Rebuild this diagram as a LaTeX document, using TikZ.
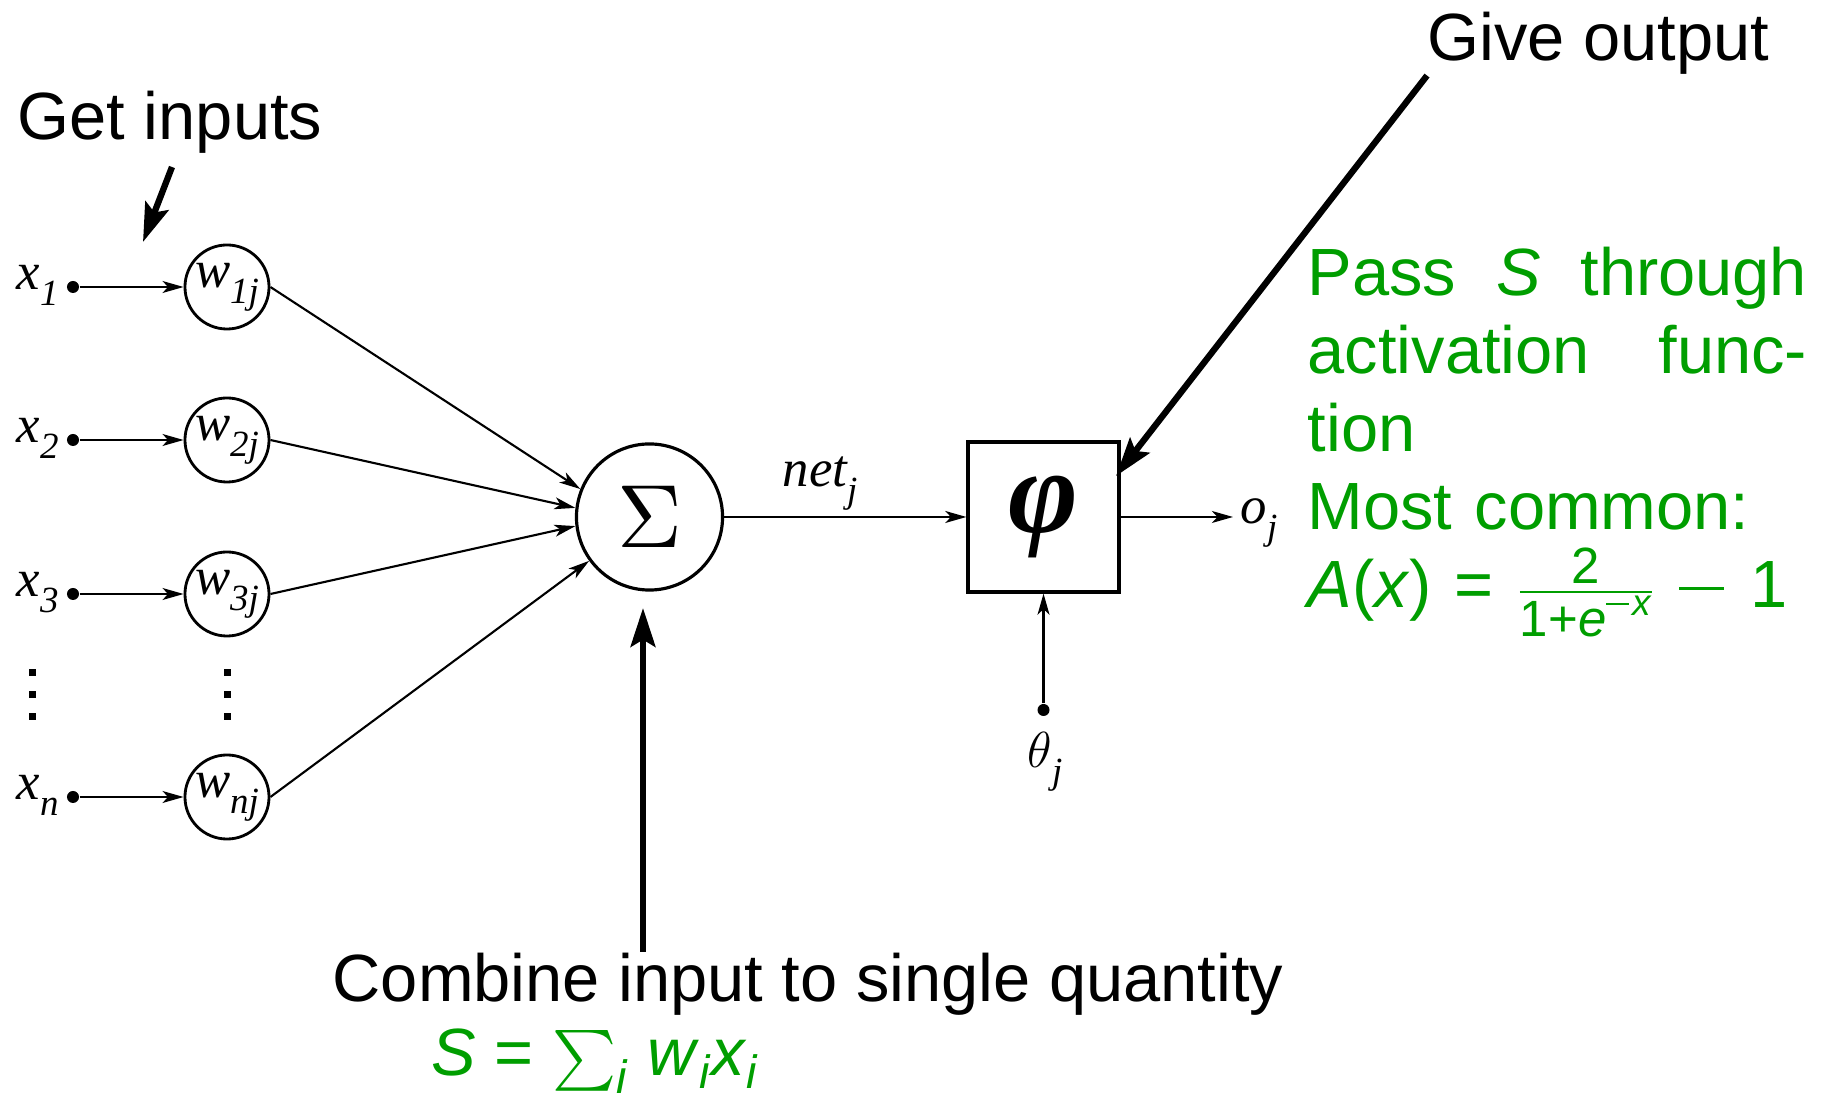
\documentclass[tikz,border=0pt]{standalone}
\usepackage{fontspec}
\usepackage{amsmath}
\usepackage{graphicx}
\setmainfont{Liberation Sans}
\newfontfamily\lser{Liberation Serif}
\usetikzlibrary{arrows.meta}
\definecolor{grn}{RGB}{0,158,0}
\newcommand\lab[2]{{\lser\itshape\fontsize{15}{16}\selectfont #1\raisebox{-0.3em}{\fontsize{10.5}{11}\selectfont #2}}}
\begin{document}
\begin{tikzpicture}[x=0.01cm,y=-0.01cm,
  wire/.style={line width=0.6pt,-{Stealth[length=6pt,width=3.4pt,inset=1.6pt]}},
  bigarrow/.style={line width=1.8pt,-{Stealth[length=11pt,width=7pt,inset=2pt]}},
  wnode/.style={circle,draw,line width=0.8pt,minimum size=8.4mm,inner sep=0pt},
  dotnode/.style={circle,fill,inner sep=0pt,minimum size=1.2mm},
  lbl/.style={anchor=base west,inner sep=0pt},
  txt/.style={inner sep=0pt,font=\fontsize{19}{22.2}\selectfont}]
\useasboundingbox (0,0) rectangle (1827,1098);

% inputs
\node[dotnode] (x1) at (73,287) {};
\node[dotnode] (x2) at (73,440) {};
\node[dotnode] (x3) at (73,594) {};
\node[dotnode] (xn) at (73,797) {};
\node[lbl] (lx1) at (16,290) {\lab{x}{1}};
\node[lbl] (lx2) at (16,443) {\lab{x}{2}};
\node[lbl] (lx3) at (16,597) {\lab{x}{3}};
\node[lbl] (lxn) at (16,800) {\lab{x}{n}};

% weights
\node[wnode] (w1) at (227,287) {\lab{w}{1j}};
\node[wnode] (w2) at (227,440) {\lab{w}{2j}};
\node[wnode] (w3) at (227,594) {\lab{w}{3j}};
\node[wnode] (wn) at (227,797) {\lab{w}{nj}};

% vertical dots
\foreach \yy in {673,695,717}{
  \fill (28.5,\yy-3.5) rectangle ++(7,7);
  \fill (223.5,\yy-3.5) rectangle ++(7,7);
}

\draw[wire] (x1) -- (w1);
\draw[wire] (x2) -- (w2);
\draw[wire] (x3) -- (w3);
\draw[wire] (xn) -- (wn);

% sum
\node[circle,draw,line width=0.9pt,minimum size=14.6mm,inner sep=0pt] (sigma) at (649.5,517) {\scalebox{2.55}{$\Sigma$}};
\draw[wire] (w1.east) -- (sigma.158);
\draw[wire] (w2.east) -- (sigma.173);
\draw[wire] (w3.east) -- (sigma.187);
\draw[wire] (wn.east) -- (sigma.216);

% activation
\node[draw,line width=0.9pt,minimum width=15.1mm,minimum height=15mm,inner sep=0pt] (phi) at (1043.5,517) {\raisebox{0.4mm}{\lser\bfseries\itshape\fontsize{34}{34}\selectfont φ}};
\draw[wire] (sigma) -- (phi);
\node[lbl] (netl) at (782,487) {\lab{net}{j}};
\coordinate (oend) at (1233,517);
\draw[wire] (phi) -- (oend);
\node[lbl] (ol) at (1240,524) {\lab{o}{j}};
\node[dotnode] (th) at (1043.5,710) {};
\draw[wire] (th) -- (phi);
\node[lbl] (thl) at (1027,768) {{\fontsize{15}{16}\selectfont$\theta$}\lab{}{j}};

% annotations
\node[txt,anchor=base west] (getin) at (17,140) {Get inputs};
\node[txt,anchor=base west] (giveout) at (1427,61) {Give output};
\node[txt,anchor=base west] (combine) at (332,1002) {Combine input to single quantity};
\node[txt,anchor=base west,text=grn] (sform) at (431,1076) {\textit{S} = $\sum_{\text{\itshape i}}$ \textit{w}$_{\text{\itshape i}}$\textit{x}$_{\text{\itshape i}}$};
\node[txt,text=grn,anchor=north west,text width=142pt,align=left] (pass) at (1307,246)
  {Pass\hfill\textit{S}\hfill through\\activation\hfill func-\\tion\\Most common:\\\textit{A}(\textit{x}) = $\frac{\text{\fontsize{14.5}{15}\selectfont 2}}{\text{\fontsize{14.5}{15}\selectfont 1+\textit{e}\raisebox{0.42em}{\fontsize{10.5}{11}\selectfont\rule[0.27em]{0.6em}{0.06em}\hspace{0.1em}\textit{x}}}}$\hspace{0.35em}\rule[0.26em]{0.66em}{0.05em}\hspace{0.4em}1};

\coordinate (gi1) at (172,167);
\coordinate (gi2) at (143,242);
\draw[bigarrow] (gi1) -- (gi2);
\coordinate (go2) at (1116,476);
\draw[bigarrow] (giveout.south west) -- (go2);
\coordinate (cb1) at (643,952);
\coordinate (cb2) at (643,608);
\draw[bigarrow] (cb1) -- (cb2);
\end{tikzpicture}
\end{document}
